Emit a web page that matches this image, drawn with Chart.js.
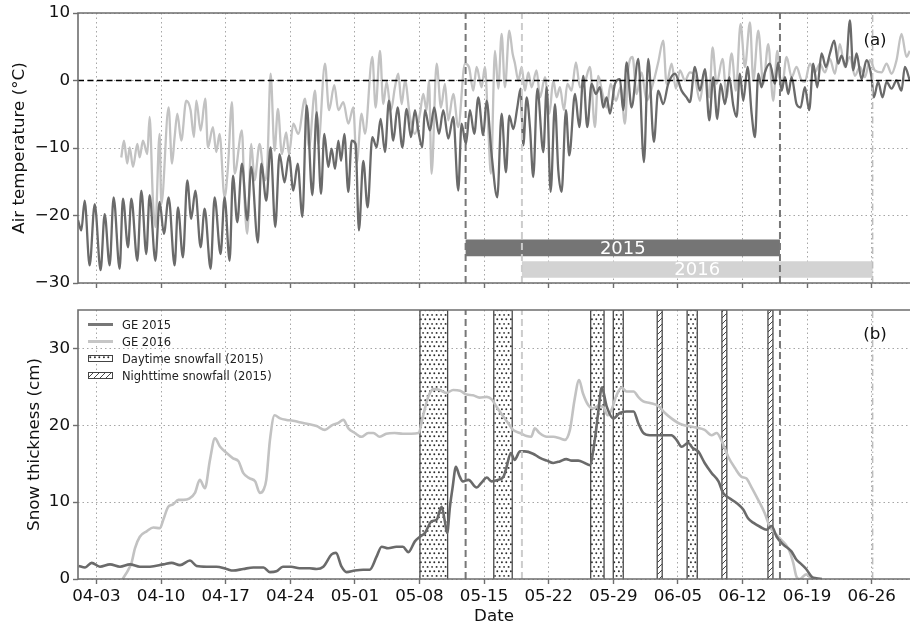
<!DOCTYPE html>
<html><head><meta charset="utf-8">
<script src="https://cdn.jsdelivr.net/npm/chart.js@4.4.1/dist/chart.umd.min.js"></script>
<style>
html,body{margin:0;padding:0;background:#fff;}
#wrap{position:relative;width:910px;height:627px;overflow:hidden;font-family:"DejaVu Sans",sans-serif;}
#c1{position:absolute;left:0;top:0;}
#c2{position:absolute;left:0;top:290px;}
#legend{position:absolute;left:88px;top:316px;font-size:11.5px;color:#222;}
.row{display:flex;align-items:center;height:17px;white-space:nowrap;}
.sw{width:25px;margin-right:9px;display:inline-block;}
.line{height:3px;}
</style></head><body>
<div id="wrap">
<canvas id="c1" width="910" height="297"></canvas>
<canvas id="c2" width="910" height="337"></canvas>
<div id="legend">
 <div class="row"><span class="sw line" style="background:#777"></span>GE 2015</div>
 <div class="row"><span class="sw line" style="background:#c6c6c6"></span>GE 2016</div>
 <div class="row"><canvas class="sw" id="swDay" width="25" height="7"></canvas>Daytime snowfall (2015)</div>
 <div class="row"><canvas class="sw" id="swNight" width="25" height="7"></canvas>Nighttime snowfall (2015)</div>
</div>
</div>
<script>
// ---------------- data ----------------
const tickDays = [2,9,16,23,30,37,44,51,58,65,72,79,86];           // days since 04-01
const tickLabels = ['04-03','04-10','04-17','04-24','05-01','05-08','05-15','05-22','05-29','06-05','06-12','06-19','06-26'];
const tempTicks = [-30,-20,-10,0,10];
const snowTicks = [0,10,20,30];

const tDays2015 = [0,0.36,0.72,1.26,1.81,2.45,2.89,3.43,3.86,4.51,4.87,5.42,5.78,6.43,6.86,7.40,7.76,8.38,8.84,9.31,9.82,10.47,10.83,11.37,11.84,12.27,12.71,13.29,13.72,14.37,14.80,15.45,15.88,16.43,16.79,17.26,17.76,18.34,18.77,19.49,19.86,20.40,20.87,21.37,21.84,22.38,22.86,23.33,23.80,24.31,24.78,25.39,25.86,26.33,26.69,27.12,27.48,27.85,28.21,28.50,28.86,29.29,29.65,30.08,30.44,30.91,31.38,31.89,32.36,32.79,33.26,33.69,34.16,34.63,35.14,35.61,36.08,36.51,36.87,37.30,37.59,38.13,38.60,39.11,39.58,40.12,40.66,41.20,41.56,42.03,42.47,42.94,43.37,43.91,44.27,44.81,45.43,45.90,46.37,46.73,47.17,47.60,47.96,48.25,48.61,48.97,49.33,49.77,50.42,50.78,51.21,51.68,52.04,52.40,52.87,53.23,53.85,54.32,54.75,55.18,55.65,56.12,56.55,56.91,57.28,57.64,58.18,58.72,59.08,59.44,59.98,60.71,61.32,61.79,62.40,62.87,63.41,63.95,64.68,65.40,65.94,66.30,66.84,67.38,67.93,68.40,68.83,69.27,69.63,70.10,70.57,71.00,71.36,71.72,72.08,72.55,72.99,73.35,73.71,74.07,74.43,74.97,75.51,75.87,76.23,76.60,76.96,77.32,77.86,78.29,78.76,79.23,79.66,80.10,80.57,81.04,81.47,81.94,82.37,82.73,83.20,83.64,84.00,84.36,84.90,85.44,85.98,86.23,86.70,87.17,87.61,88.15,88.69,89.23,89.59,90.13];
const tVals2015 = [-20.7,-22.2,-17.8,-27.4,-18.3,-28.1,-19.8,-27.4,-17.3,-27.9,-17.5,-24.7,-17.5,-26.7,-16.3,-25.7,-17.0,-26.7,-18.0,-22.7,-17.3,-27.4,-18.8,-26.2,-14.8,-20.5,-16.3,-24.7,-19.0,-27.9,-17.3,-25.7,-17.3,-26.7,-14.1,-21.0,-12.3,-20.7,-12.8,-24.0,-12.3,-17.8,-9.9,-21.7,-10.9,-15.1,-11.1,-16.3,-12.3,-20.2,-3.7,-17.0,-4.7,-16.8,-7.9,-12.8,-10.1,-13.1,-8.9,-11.9,-7.9,-16.5,-8.9,-9.4,-22.2,-11.9,-18.8,-8.4,-9.9,-5.7,-10.6,-3.0,-8.9,-4.0,-9.9,-4.2,-8.4,-4.4,-7.4,-9.9,-4.4,-7.4,-4.0,-7.9,-4.4,-8.6,-5.4,-16.3,-6.4,-9.4,-4.4,-7.9,-2.5,-8.1,-3.0,-10.9,-17.3,-4.9,-13.6,-5.2,-7.2,-4.0,-1.2,-9.6,-2.5,-6.9,-14.3,-1.2,-10.6,-1.0,-16.5,-3.5,-13.3,-16.5,-4.4,-11.1,-2.0,-6.9,0.7,-6.9,-0.5,-2.0,-1.0,-4.0,-2.5,-4.9,-0.5,0.2,-4.4,2.7,-4.0,3.2,-12.1,3.2,-9.1,-1.5,-3.5,-0.5,1.0,-1.5,-2.5,-3.2,2.0,-1.5,1.7,-5.9,0.5,-5.7,-0.5,-3.5,0.5,-3.7,-5.4,1.0,-3.0,2.0,-4.9,-8.4,1.0,-1.0,1.2,2.5,-0.5,2.7,-1.5,0.5,-2.0,0.5,-3.5,-4.0,-1.0,-4.4,2.5,-1.0,4.0,2.0,4.0,5.9,2.5,3.7,2.0,8.9,1.5,4.0,0.2,3.0,0.5,-2.5,-0.2,-2.5,-0.2,-1.2,0.0,-1.5,2.0,0.0];

const tDays2016 = [4.69,4.98,5.34,5.60,5.96,6.43,6.68,7.04,7.51,7.76,8.12,8.38,8.84,9.03,9.82,10.18,10.47,10.76,11.19,11.73,12.20,12.56,12.82,13.29,13.79,14.08,14.62,14.98,15.34,15.88,16.25,16.68,16.97,17.76,18.05,18.34,18.77,19.13,19.68,20.22,20.51,20.87,21.30,21.66,22.09,22.56,22.86,23.33,23.87,24.60,25.03,25.68,26.04,26.76,27.20,27.77,28.21,28.75,29.29,29.83,30.19,30.73,31.09,31.89,32.25,32.72,33.08,33.44,33.91,34.34,34.70,35.07,35.43,35.97,36.51,37.05,37.41,37.77,38.03,38.31,38.86,39.33,39.76,40.12,40.66,41.20,41.92,42.36,42.83,43.19,43.73,44.09,44.45,44.74,45.18,45.54,45.90,46.26,46.73,47.09,47.35,47.71,48.07,48.43,48.79,49.15,49.69,50.06,50.60,51.07,51.50,51.86,52.22,52.65,53.02,53.48,53.95,54.39,54.93,55.47,56.01,56.37,56.84,57.28,57.71,58.29,58.79,59.26,59.62,60.09,60.52,61.07,61.61,61.97,62.40,62.87,63.41,63.77,64.32,64.78,65.22,65.76,66.30,66.84,67.38,67.93,68.40,68.76,69.19,69.84,70.28,70.82,71.29,71.79,72.26,72.81,73.17,73.71,74.25,74.79,75.33,75.77,76.23,76.78,77.32,77.86,78.40,78.76,79.30,79.84,80.39,80.93,81.47,82.01,82.55,83.09,83.64,84.18,84.72,85.26,85.80,86.34,87.07,87.61,88.15,88.69,89.23,89.77,90.13];
const tVals2016 = [-11.4,-8.9,-12.3,-9.9,-12.8,-9.4,-11.4,-8.9,-10.9,-5.4,-17.8,-21.7,-7.9,-18.3,-4.0,-12.3,-8.4,-4.9,-8.9,-3.0,-4.4,-8.4,-3.0,-7.4,-2.7,-9.9,-6.9,-10.6,-7.9,-17.3,-12.8,-3.2,-13.8,-7.4,-17.8,-22.7,-9.4,-14.8,-9.4,-14.8,-12.6,1.0,-10.4,-4.2,-10.9,-7.7,-10.9,-6.4,-7.9,-2.7,-9.9,-1.5,-9.4,2.5,-4.4,-0.7,-4.4,-3.2,-6.4,-4.0,-12.3,-4.9,-7.9,3.5,-4.0,4.4,-3.5,-0.2,-4.4,-1.0,1.0,-3.5,0.0,-5.4,-7.9,-4.9,-2.0,-4.4,0.0,-13.8,2.5,-4.0,-0.5,-5.9,-2.0,-6.9,2.5,2.0,-1.5,2.0,-1.0,2.0,-6.9,-13.8,4.4,-1.2,6.9,-1.0,7.4,4.0,2.5,0.0,2.0,-1.5,1.2,-1.0,1.5,-2.5,0.5,-4.9,0.0,-2.5,-1.0,-4.4,-0.5,-1.5,2.7,-1.0,-0.2,2.0,-6.9,0.7,-2.0,-4.0,-0.5,-3.0,-1.0,-6.4,1.7,3.5,-2.0,1.2,-3.0,-2.0,0.0,2.7,5.9,-0.5,2.5,-1.2,1.5,0.0,1.2,0.5,-3.0,1.5,-2.5,4.9,-0.5,3.2,-2.5,4.0,-1.5,8.4,2.0,8.6,0.0,7.4,-0.5,5.4,-3.0,4.4,-1.5,3.5,0.5,2.0,0.0,-0.2,2.5,1.2,2.5,1.2,3.2,1.0,5.4,2.0,3.5,0.7,2.0,0.5,3.0,1.5,1.2,2.5,1.0,3.0,6.9,3.5,4.4];

const sDays2015 = [0.07,0.76,1.48,2.38,3.47,4.55,5.63,6.71,7.8,9.24,10.14,11.05,12.13,12.85,13.94,15.0,16.1,16.8,17.9,19.0,20.1,20.8,21.5,22.2,23.1,24.0,25.1,25.85,26.58,27.48,27.95,28.56,29.1,30.0,30.9,31.6,32.35,32.9,33.6,34.5,35.2,35.8,36.5,37.05,37.6,38.3,38.85,39.4,39.75,40.0,40.3,40.6,40.95,41.3,41.7,42.3,43.2,43.7,44.3,44.8,45.5,46.1,46.4,46.9,47.3,47.9,48.4,49.3,50.0,50.8,51.5,52.2,52.9,53.5,54.2,54.9,55.45,56.0,56.4,56.75,57.3,58.0,58.7,59.44,60.2,60.7,61.25,61.97,63.05,64.3,64.85,65.4,66.1,66.65,67.2,67.9,68.65,69.4,69.9,70.6,71.35,72.1,72.6,73.2,73.9,74.6,75.15,75.7,76.4,77.3,77.85,78.4,78.9,79.5,80.0,80.6];
const sVals2015 = [1.7,1.5,2.1,1.6,1.9,1.6,1.9,1.6,1.6,1.9,2.1,1.8,2.4,1.7,1.6,1.6,1.3,1.1,1.3,1.5,1.5,0.9,1.0,1.6,1.6,1.4,1.4,1.3,1.6,3.2,3.4,1.6,0.9,1.1,1.2,1.2,2.9,4.2,4.0,4.2,4.2,3.5,4.9,5.5,6.0,7.5,7.7,9.4,7.5,6.0,9.4,12.0,14.6,13.5,12.7,12.9,11.9,12.5,13.2,12.7,12.9,13.3,14.4,16.4,15.5,16.6,16.6,16.3,15.8,15.4,15.1,15.3,15.6,15.4,15.4,15.1,14.8,18.1,22.0,24.9,22.4,20.9,21.6,21.8,21.8,20.3,19.0,18.7,18.7,18.7,18.1,17.2,17.7,17.0,16.6,15.1,13.8,12.7,11.2,10.5,9.9,9.0,7.9,7.3,6.8,6.4,6.9,5.5,4.5,3.6,2.5,1.9,1.3,0.3,0.1,0.0];

const sDays2016 = [4.84,5.45,5.8,6.17,6.7,7.44,8.16,8.88,9.24,9.78,10.3,10.87,11.4,12.1,12.67,13.2,13.75,14.3,14.84,15.4,16.1,16.8,17.4,17.9,18.6,19.2,19.7,20.1,20.4,20.8,21.3,21.9,22.6,23.3,24.0,24.8,25.85,26.76,27.5,28.2,28.75,29.3,30.0,30.7,31.45,32.0,32.7,33.4,34.3,35.2,36.1,36.9,37.4,37.95,38.5,39.2,39.9,40.65,41.4,42.1,42.8,43.5,44.3,44.8,45.35,46.1,46.6,47.15,47.9,48.6,49.1,49.5,50.0,50.8,51.5,52.2,52.75,53.3,53.8,54.3,54.7,55.3,55.8,56.4,56.9,57.4,57.8,58.35,58.9,59.44,60.2,60.7,61.25,61.97,62.9,63.6,64.3,65.2,66.1,67.0,67.9,68.65,69.2,69.7,70.45,71.2,71.9,72.4,72.95,73.7,74.4,74.96,75.5,76.2,76.95,77.5,77.85,78.2,78.9,79.5];
const sVals2016 = [0,1.2,2.1,4.0,5.5,6.2,6.7,6.6,7.7,9.4,9.7,10.3,10.3,10.5,11.2,12.9,11.8,15.5,18.3,17.2,16.4,15.7,15.3,13.8,13.1,12.7,11.2,11.6,12.9,18.1,21.3,20.9,20.7,20.6,20.4,20.2,19.9,19.4,20.0,20.3,20.7,19.6,19.0,18.5,19.0,19.0,18.5,18.9,19.0,18.9,18.9,19.0,21.3,23.7,24.7,24.6,24.2,24.6,24.5,24.0,23.9,23.6,23.7,23.4,22.4,21.1,20.3,19.4,19.0,18.6,18.5,19.6,19.0,18.5,18.5,18.3,18.1,19.4,23.3,25.9,24.2,22.6,22.2,22.5,22.4,21.3,22.0,23.9,24.9,24.4,24.4,23.7,23.1,22.9,22.5,21.6,20.9,20.2,19.9,19.7,19.4,18.7,19.0,18.1,15.9,14.4,13.3,13.1,12.0,10.3,8.6,6.8,6.0,5.1,4.0,2.1,0.3,0.0,0.6,0.0];

const periodYears = ['2015','2016'];
const periodStart = [42.0, 48.1];
const periodEnd = [76.06, 86.1];
const periodLevel = [-24.8, -28.0];
const daySnowStart = [37.05, 45.05, 55.55, 58.0, 66.0];
const daySnowEnd = [40.05, 47.05, 57.0, 59.08, 67.1];
const nightSnowStart = [62.76, 69.77, 74.76];
const nightSnowEnd = [63.3, 70.3, 75.3];
const zeroLevel = [0];

// ---------------- helpers ----------------
const X_MIN = 0, X_MAX = 90.15;
const FONT = 'DejaVu Sans';
const DARK = '#6a6a6a', LIGHT = '#c2c2c2';
const pts = (d, v) => d.map((x, i) => ({x, y: v[i]}));
const minusFmt = v => (v < 0 ? '\u2212' + Math.abs(v) : String(v));

function dotTile() {
  const s = 9.2, c = document.createElement('canvas'); c.width = s; c.height = s;
  const g = c.getContext('2d');
  g.fillStyle = '#fff'; g.fillRect(0, 0, s, s);
  g.fillStyle = '#2a2a2a';
  [[2.3,2.3],[6.9,2.3],[0,6.9],[4.6,6.9],[9.2,6.9]].forEach(([x,y]) => { g.beginPath(); g.arc(x, y, 0.95, 0, Math.PI*2); g.fill(); });
  return c;
}
function hatchTile() {
  const c = document.createElement('canvas'); c.width = 6; c.height = 6;
  const g = c.getContext('2d');
  g.fillStyle = '#fff'; g.fillRect(0, 0, 6, 6);
  g.strokeStyle = '#333'; g.lineWidth = 0.9;
  [[0,6,6,0],[-3,3,3,-3],[3,9,9,3]].forEach(([a,b,c2,d]) => { g.beginPath(); g.moveTo(a,b); g.lineTo(c2,d); g.stroke(); });
  return c;
}

function xScale(showLabels, h) {
  return {
    type: 'linear', min: X_MIN, max: X_MAX,
    afterBuildTicks: s => { s.ticks = tickDays.map(v => ({value: v})); },
    afterFit: s => { s.height = h; },
    ticks: { display: showLabels, autoSkip: false, maxRotation: 0, padding: 3,
      callback: (v, i) => tickLabels[i], font: {family: FONT, size: 16.7}, color: '#111' },
    grid: { color: '#a6a6a6', lineWidth: 1, drawTicks: true, tickLength: 5, tickColor: '#6e6e6e', tickWidth: 1.4 },
    border: { display: false, dash: [1.5, 3] },
    title: showLabels ? { display: true, text: 'Date', font: {family: FONT, size: 16.7}, color: '#111', padding: {top: 0, bottom: 0} } : { display: false }
  };
}
function yScale(min, max, tickVals, title, tpad) {
  return {
    type: 'linear', min, max,
    afterBuildTicks: s => { s.ticks = tickVals.map(v => ({value: v})); },
    afterFit: s => { s.width = 78; },
    ticks: { padding: 3, callback: v => minusFmt(v), font: {family: FONT, size: 16.7}, color: '#111' },
    grid: { color: '#a6a6a6', lineWidth: 1, drawTicks: true, tickLength: 5, tickColor: '#6e6e6e', tickWidth: 1.4 },
    border: { display: false, dash: [1.5, 3] },
    title: { display: true, text: title, font: {family: FONT, size: 16.7}, color: '#111', padding: {top: tpad, bottom: 0} }
  };
}
const framePlugin = {
  id: 'frame',
  afterDatasetsDraw(chart) {
    const {ctx, chartArea: a} = chart;
    ctx.save();
    ctx.strokeStyle = '#6e6e6e'; ctx.lineWidth = 1.6;
    ctx.beginPath();
    ctx.moveTo(a.right + 2, a.top); ctx.lineTo(a.left, a.top); ctx.lineTo(a.left, a.bottom); ctx.lineTo(a.right + 2, a.bottom);
    ctx.stroke();
    ctx.restore();
  }
};
function vline(day, yMin, yMax, color, dash, width) {
  return { type: 'line', data: [{x: day, y: yMin}, {x: day, y: yMax}], borderColor: color, borderWidth: width,
    borderDash: dash, pointRadius: 0, fill: false, order: -1 };
}
function markerLines(yMin, yMax) {
  return [
    vline(periodStart[0], yMin, yMax, '#777', [7, 4], 2),
    vline(periodStart[1], yMin, yMax, '#cccccc', [7, 4], 2),
    vline(periodEnd[0], yMin, yMax, '#777', [7, 4], 2),
    vline(periodEnd[1], yMin, yMax, '#bdbdbd', [7, 3, 1.5, 3], 1.5)
  ];
}
const common = { responsive: false, animation: false, events: [],
  plugins: { legend: {display: false}, tooltip: {enabled: false} } };

// ---------------- top chart ----------------
const c1 = document.getElementById('c1');
const topLabels = {
  id: 'topLabels',
  afterDatasetsDraw(chart) {
    const {ctx, chartArea: a, scales: {x, y}} = chart;
    ctx.save();
    ctx.textAlign = 'center'; ctx.textBaseline = 'middle';
    ctx.font = '18px "' + FONT + '"'; ctx.fillStyle = '#fff';
    periodYears.forEach((t, i) => {
      ctx.fillText(t, x.getPixelForValue((periodStart[i] + periodEnd[i]) / 2), y.getPixelForValue(periodLevel[i]) + 1);
    });
    ctx.font = '16.7px "' + FONT + '"'; ctx.fillStyle = '#111';
    ctx.fillText('(a)', a.right - 35, a.top + 28);
    ctx.restore();
  }
};
new Chart(c1, {
  type: 'line',
  data: { datasets: [
    { type: 'line', data: [{x: X_MIN, y: zeroLevel[0]}, {x: X_MAX, y: zeroLevel[0]}], borderColor: '#000', borderWidth: 1.5, borderDash: [6, 3.5], pointRadius: 0, order: -2 },
    ...markerLines(-30, 10),
    ...periodYears.map((t, i) => ({ type: 'line', data: [{x: periodStart[i], y: periodLevel[i]}, {x: periodEnd[i], y: periodLevel[i]}],
      borderColor: i === 0 ? '#757575' : '#d3d3d3', borderWidth: 16.7, borderCapStyle: 'butt', pointRadius: 0, order: 1 })),
    { label: 'GE 2015', data: pts(tDays2015, tVals2015), borderColor: DARK, borderWidth: 2.3, pointRadius: 0, cubicInterpolationMode: 'monotone', order: 2 },
    { label: 'GE 2016', data: pts(tDays2016, tVals2016), borderColor: LIGHT, borderWidth: 2.3, pointRadius: 0, cubicInterpolationMode: 'monotone', order: 3 }
  ]},
  options: { ...common,
    layout: { padding: {top: 13, left: 0, right: 0, bottom: 0} },
    scales: { x: xScale(false, 14), y: yScale(-30, 10, tempTicks, 'Air temperature (°C)', 10) }
  },
  plugins: [framePlugin, topLabels]
});

// ---------------- bottom chart ----------------
const c2 = document.getElementById('c2');
const ctx2 = c2.getContext('2d');
const dotPat = ctx2.createPattern(dotTile(), 'repeat');
const hatchPat = ctx2.createPattern(hatchTile(), 'repeat');
const rect = (s, e) => [{x: s, y: 0}, {x: s, y: 35}, {x: e, y: 35}, {x: e, y: 0}];
const bottomLabels = {
  id: 'bottomLabels',
  afterDatasetsDraw(chart) {
    const {ctx, chartArea: a} = chart;
    ctx.save();
    ctx.textAlign = 'center'; ctx.textBaseline = 'middle';
    ctx.font = '16.7px "' + FONT + '"'; ctx.fillStyle = '#111';
    ctx.fillText('(b)', a.right - 35, a.top + 25);
    ctx.restore();
  }
};
new Chart(c2, {
  type: 'line',
  data: { datasets: [
    ...markerLines(0, 35),
    { label: 'GE 2015', data: pts(sDays2015, sVals2015), borderColor: DARK, borderWidth: 2.6, pointRadius: 0, cubicInterpolationMode: 'monotone', order: 1 },
    { label: 'GE 2016', data: pts(sDays2016, sVals2016), borderColor: LIGHT, borderWidth: 2.6, pointRadius: 0, cubicInterpolationMode: 'monotone', order: 2 },
    ...daySnowStart.map((s, i) => ({ label: 'Daytime snowfall (2015)', data: rect(s, daySnowEnd[i]), borderColor: '#4a4a4a', borderWidth: 1.3,
      backgroundColor: dotPat, fill: 'origin', tension: 0, pointRadius: 0, order: 5 })),
    ...nightSnowStart.map((s, i) => ({ label: 'Nighttime snowfall (2015)', data: rect(s, nightSnowEnd[i]), borderColor: '#4a4a4a', borderWidth: 1.3,
      backgroundColor: hatchPat, fill: 'origin', tension: 0, pointRadius: 0, order: 5 }))
  ]},
  options: { ...common,
    layout: { padding: {top: 20, left: 0, right: 0, bottom: 0} },
    scales: { x: xScale(true, 48), y: yScale(0, 35, snowTicks, 'Snow thickness (cm)', 25) }
  },
  plugins: [framePlugin, bottomLabels]
});

// ---------------- legend swatches ----------------
[['swDay', dotTile()], ['swNight', hatchTile()]].forEach(([id, tile]) => {
  const cv = document.getElementById(id), g = cv.getContext('2d');
  g.fillStyle = g.createPattern(tile, 'repeat'); g.fillRect(0, 0, cv.width, cv.height);
  g.strokeStyle = '#444'; g.lineWidth = 1; g.strokeRect(0.5, 0.5, cv.width - 1, cv.height - 1);
});
</script>
</body></html>
